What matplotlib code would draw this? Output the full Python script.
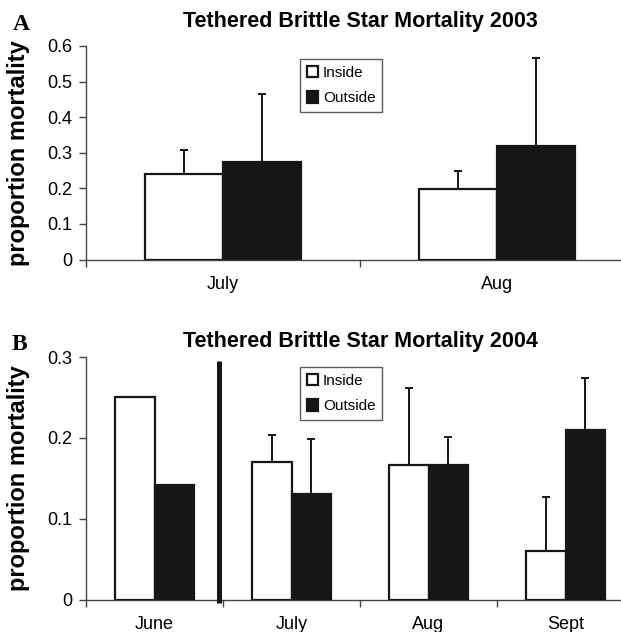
import matplotlib
import numpy as np

matplotlib.use("Agg")
import matplotlib.pyplot as plt

# Panel A: 2003
months_2003 = ["July", "Aug"]
inside_2003 = [0.240, 0.197]
inside_err_2003 = [0.069, 0.052]
outside_2003 = [0.275, 0.320]
outside_err_2003 = [0.189, 0.245]

# Panel B: 2004 (June has no error bars)
months_2004 = ["June", "July", "Aug", "Sept"]
inside_2004 = [0.250, 0.170, 0.166, 0.060]
inside_err_2004 = [0.0, 0.034, 0.096, 0.067]
outside_2004 = [0.142, 0.131, 0.167, 0.210]
outside_err_2004 = [0.0, 0.067, 0.034, 0.064]

FW, FH = 621, 632
BAR_W = 0.286
DARK = "#161616"

plt.rcParams.update({
    "font.family": ["Liberation Sans", "DejaVu Sans"],
    "font.size": 13,
    "axes.linewidth": 1.0,
    "axes.edgecolor": "#444444",
})


def panel(ax, months, inside, inside_err, outside, outside_err, ymax, yticks, title, title_pad):
    x = np.arange(len(months))
    ax.bar(x - BAR_W / 2, inside, BAR_W, color="white", edgecolor=DARK, linewidth=1.6,
           label="Inside", zorder=3)
    ax.bar(x + BAR_W / 2, outside, BAR_W, color=DARK, edgecolor=DARK, linewidth=1.6,
           label="Outside", zorder=3)
    for xs, vals, errs in ((x - BAR_W / 2, inside, inside_err), (x + BAR_W / 2, outside, outside_err)):
        for xi, v, e in zip(xs, vals, errs):
            if e > 0:
                ax.errorbar(xi, v, yerr=[[0], [e]], fmt="none", ecolor=DARK,
                            elinewidth=1.4, capsize=3, capthick=1.4, zorder=2)
    ax.set_xlim(-0.5, len(months) - 0.5)
    ax.set_ylim(0, ymax)
    ax.set_yticks(yticks)
    ax.set_yticklabels([("%g" % t) for t in yticks])
    ax.set_xticks(np.arange(len(months) + 1) - 0.5)
    ax.set_xticklabels([])
    ax.set_xticks(x, minor=True)
    ax.set_xticklabels(months, minor=True)
    ax.tick_params(axis="x", which="major", length=5, width=1.0, color="#444444")
    ax.tick_params(axis="x", which="minor", length=0, pad=12)
    ax.tick_params(axis="y", length=5, width=1.0, color="#444444", pad=5)
    for s in ("top", "right"):
        ax.spines[s].set_visible(False)
    ax.set_title(title, fontsize=15.5, fontweight="bold", pad=title_pad)
    ax.set_ylabel("proportion mortality", fontsize=17, fontweight="bold")
    ax.yaxis.set_label_coords(-0.102, 0.5)


def add_legend(ax, top_px, axis_px, height_px):
    ax.legend(loc="upper left", bbox_to_anchor=((300 - 86) / 548, (axis_px - top_px) / height_px),
              fontsize=11, frameon=True, fancybox=False, edgecolor="#333333",
              handlelength=0.75, handleheight=0.75, handletextpad=0.3, labelspacing=0.75,
              borderpad=0.45, borderaxespad=0)


fig = plt.figure(figsize=(FW / 100, FH / 100), dpi=100)

ax_a = fig.add_axes([86 / FW, (FH - 259.5) / FH, 548 / FW, 213.5 / FH])
panel(ax_a, months_2003, inside_2003, inside_err_2003, outside_2003, outside_err_2003,
      0.6, [0, 0.1, 0.2, 0.3, 0.4, 0.5, 0.6], "Tethered Brittle Star Mortality 2003", 14)
add_legend(ax_a, 59, 259.5, 213.5)

ax_b = fig.add_axes([86 / FW, (FH - 599.5) / FH, 548 / FW, 242.5 / FH])
panel(ax_b, months_2004, inside_2004, inside_err_2004, outside_2004, outside_err_2004,
      0.3, [0, 0.1, 0.2, 0.3], "Tethered Brittle Star Mortality 2004", 7)
add_legend(ax_b, 367, 599.5, 242.5)
# divider between June and the later months
ax_b.plot([0.471, 0.471], [-0.004, 0.2946], color=DARK, linewidth=3.6,
          solid_capstyle="butt", clip_on=False, zorder=4)

fig.text(13 / FW, 1 - 30 / FH, "A", family="Liberation Serif", fontweight="bold", fontsize=17)
fig.text(12 / FW, 1 - 350 / FH, "B", family="Liberation Serif", fontweight="bold", fontsize=17)

fig.savefig("out.png", dpi=100)
